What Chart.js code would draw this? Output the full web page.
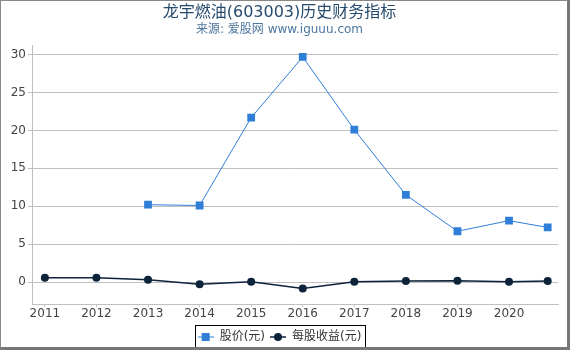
<!DOCTYPE html>
<html>
<head>
<meta charset="utf-8">
<script src="https://cdn.jsdelivr.net/npm/chart.js@4"></script>
<style>
  html, body { margin: 0; padding: 0; background: #fff; }
  .frame {
    width: 570px; height: 350px; box-sizing: border-box;
    border-top: 1px solid #888; border-left: 1px solid #888;
    border-right: 3px solid #777; border-bottom: 3px solid #777;
  }
  canvas { display: block; }
</style>
</head>
<body>
<div class="frame"><canvas id="myChart" width="566" height="346"></canvas></div>
<script>
// data
var dates = [2011, 2012, 2013, 2014, 2015, 2016, 2017, 2018, 2019, 2020, 2020.75];
var price = [null, null, 10.2, 10.1, 21.7, 29.7, 20.1, 11.5, 6.7, 8.1, 7.2];
var eps = [0.57, 0.57, 0.29, -0.29, 0.04, -0.86, 0.05, 0.13, 0.17, 0.03, 0.13];
var yearTicks = [2011, 2012, 2013, 2014, 2015, 2016, 2017, 2018, 2019, 2020];
var yTicks = [0, 5, 10, 15, 20, 25, 30];

var FONT = "'DejaVu Sans', 'Noto Sans CJK SC', sans-serif";
var BLUE = '#2f7ed8';
var NAVY = '#0d233a';

function toPoints(vals) {
  return dates.map(function (d, i) { return { x: d, y: vals[i] }; });
}

// little legend symbols: line with marker
function legendIcon(color, square) {
  var c = document.createElement('canvas');
  c.width = 16; c.height = 10;
  var g = c.getContext('2d');
  g.strokeStyle = color; g.lineWidth = square ? 1 : 1.5;
  g.beginPath(); g.moveTo(0, 5); g.lineTo(16, 5); g.stroke();
  g.fillStyle = color;
  if (square) { g.fillRect(4, 1, 8, 8); }
  else { g.beginPath(); g.arc(8, 5, 4, 0, Math.PI * 2); g.fill(); }
  return c;
}
var iconPrice = legendIcon(BLUE, true);
var iconEps = legendIcon(NAVY, false);

var legendBox = {
  id: 'legendBox',
  beforeLayout: function (chart) {
    var lg = chart.legend;
    if (lg && !lg._patched) {
      var orig = lg.fit;
      lg.fit = function () { orig.call(this); this.height = 21; };
      lg._patched = true;
    }
  },
  afterDraw: function (chart) {
    var boxes = chart.legend.legendHitBoxes;
    if (!boxes || !boxes.length) return;
    var l = Infinity, r = -Infinity, t = Infinity, b = -Infinity;
    boxes.forEach(function (h) {
      l = Math.min(l, h.left); r = Math.max(r, h.left + h.width);
      t = Math.min(t, h.top); b = Math.max(b, h.top + h.height);
    });
    var ctx = chart.ctx;
    ctx.save();
    ctx.strokeStyle = '#000'; ctx.lineWidth = 1;
    ctx.strokeRect(Math.round(l - 3) + 0.5, Math.round(t - 6) + 0.5, Math.round(r - l + 6), Math.round(b - t + 12));
    ctx.restore();
  }
};

var ctx = document.getElementById('myChart');

const config = {
  type: 'line',
  data: {
    datasets: [{
      label: '股价(元)',
      data: toPoints(price),
      borderColor: BLUE,
      backgroundColor: BLUE,
      borderWidth: 1,
      pointStyle: 'rect',
      pointRadius: 5.5,
      pointBorderWidth: 0,
      spanGaps: false
    }, {
      label: '每股收益(元)',
      data: toPoints(eps),
      borderColor: NAVY,
      backgroundColor: NAVY,
      borderWidth: 1.5,
      pointStyle: 'circle',
      pointRadius: 4,
      pointBorderWidth: 0
    }]
  },
  options: {
    responsive: false,
    animation: false,
    layout: { padding: { left: 0, right: 9, top: 0, bottom: 0 } },
    scales: {
      x: {
        type: 'linear',
        min: 2010.75,
        max: 2020.95,
        afterBuildTicks: function (s) { s.ticks = yearTicks.map(function (v) { return { value: v }; }); },
        afterFit: function (s) { s.height = 22; },
        grid: { drawOnChartArea: false, drawTicks: true, tickLength: 3, color: '#c0c0c0' },
        border: { color: '#c0c0c0' },
        ticks: {
          color: '#444', font: { family: FONT, size: 12 }, padding: 0,
          maxRotation: 0, autoSkip: false,
          callback: function (v) { return String(v); }
        }
      },
      y: {
        min: -2.9,
        max: 31.2,
        afterBuildTicks: function (s) { s.ticks = yTicks.map(function (v) { return { value: v }; }); },
        afterFit: function (s) { s.width = 31; },
        grid: { color: '#c0c0c0', tickLength: 4 },
        border: { color: '#c0c0c0' },
        ticks: { color: '#444', font: { family: FONT, size: 12 }, padding: 2 }
      }
    },
    plugins: {
      title: {
        display: true,
        text: '龙宇燃油(603003)历史财务指标',
        color: '#274b6d',
        font: { family: FONT, size: 16, weight: 'normal' },
        padding: { top: 2, bottom: 0 }
      },
      subtitle: {
        display: true,
        text: '来源: 爱股网 www.iguuu.com',
        color: '#4d759e',
        font: { family: FONT, size: 12 },
        padding: { top: 0, bottom: 9 }
      },
      legend: {
        position: 'bottom',
        labels: {
          usePointStyle: true,
          pointStyleWidth: 16,
          color: '#333',
          font: { family: FONT, size: 12 },
          padding: 5,
          generateLabels: function (chart) {
            return chart.data.datasets.map(function (ds, i) {
              return {
                text: ds.label,
                pointStyle: i === 0 ? iconPrice : iconEps,
                fillStyle: ds.borderColor,
                strokeStyle: ds.borderColor,
                lineWidth: 0,
                fontColor: '#333',
                datasetIndex: i,
                hidden: false
              };
            });
          }
        }
      },
      tooltip: { enabled: false }
    }
  },
  plugins: [legendBox]
};

const myChart = new Chart(ctx, config);
</script>
</body>
</html>
